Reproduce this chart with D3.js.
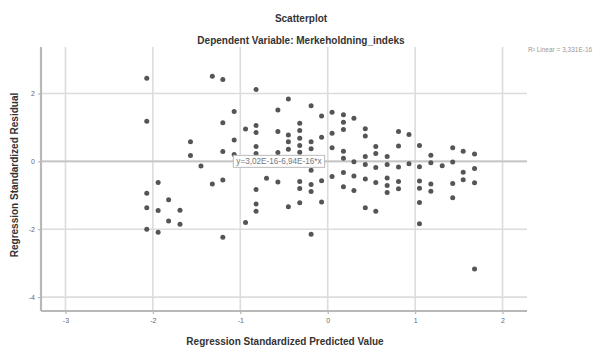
<!DOCTYPE html>
<html>
<head>
<meta charset="utf-8">
<script src="https://cdn.jsdelivr.net/npm/d3@7"></script>
<style>
    body { margin: 0; background: #fff; }
    svg { display: block; font-family: "Liberation Sans", Arial, sans-serif; }
</style>
</head>
<body>
<svg id="svg1" width="602" height="350"></svg>
<script>
// data: predicted values fall in columns
var predictedValues = [-2.07, -1.94, -1.82, -1.69, -1.57, -1.45, -1.32, -1.20, -1.07, -0.94,
    -0.82, -0.70, -0.57, -0.45, -0.32, -0.19, -0.07, 0.05, 0.18, 0.30,
    0.43, 0.55, 0.68, 0.81, 0.93, 1.05, 1.18, 1.31, 1.43, 1.55, 1.68];

// standardized residuals for each predicted value column above
var residualGroups = [
    [2.45, 1.18, -0.94, -1.37, -2.00],
    [-0.62, -1.45, -2.09],
    [-1.13, -1.76],
    [-1.44, -1.85],
    [0.58, 0.17],
    [-0.14],
    [2.51, -0.67],
    [2.41, 1.14, 0.29, -0.55, -2.24],
    [1.47, 0.63, 0.20],
    [0.95, -1.80],
    [2.12, 1.06, 0.85, 0.44, 0.23, -0.83, -1.26, -1.47],
    [-0.50],
    [1.51, 0.88, 0.26, -0.61],
    [1.84, 0.78, 0.58, 0.36, -1.34],
    [1.12, 0.91, 0.68, 0.47, 0.27, -0.59, -0.80, -1.22],
    [1.64, 0.58, 0.37, -0.26, -0.68, -0.89, -2.15],
    [1.34, 0.71, -0.57, -1.20],
    [1.45, 0.83, 0.40, -0.45],
    [1.37, 1.15, 0.94, 0.30, 0.09, -0.33, -0.75],
    [1.27, -0.01, -0.43, -0.86],
    [0.96, 0.75, 0.14, -0.09, -0.52, -1.37],
    [0.44, 0.23, -0.18, -0.62, -1.47],
    [0.14, -0.09, -0.49, -0.71, -0.92],
    [0.88, 0.45, -0.17, -0.59, -0.81],
    [0.79, -0.07],
    [0.47, -0.16, -0.58, -0.79, -1.21, -1.84],
    [0.18, -0.04, -0.67, -0.88],
    [-0.13],
    [0.40, -0.02, -0.65, -1.07],
    [0.30, -0.32, -0.54],
    [0.22, -0.21, -0.63, -3.17]
];

var xTicks = [-3, -2, -1, 0, 1, 2];
var yTicks = [2, 0, -2, -4];

// fit line coefficients (intercept, slope) and the labels SPSS prints
var fitIntercept = 3.02e-16;
var fitSlope = -6.94e-16;
var fitLabel = 'y=3,02E-16-6,94E-16*x';
var r2Label = 'R\u00B2 Linear = 3,331E-16';

var titleText = 'Scatterplot';
var subtitleText = 'Dependent Variable: Merkeholdning_indeks';
var xTitle = 'Regression Standardized Predicted Value';
var yTitle = 'Regression Standardized Residual';

var points = [];
predictedValues.forEach(function(x, i){
    residualGroups[i].forEach(function(y){
        points.push({x: x, y: y});
    });
});

var svg = d3.select('#svg1');

// plot frame (note: "top" is a reserved window property, so prefix these)
var plotLeft = 41, plotRight = 527, plotTop = 47, plotBottom = 311;

var scaleX = d3.scaleLinear().domain([-3.28, 2.28]).range([plotLeft, plotRight]);
var scaleY = d3.scaleLinear().domain([-4.41, 3.37]).range([plotBottom, plotTop]);

// grid lines
svg.selectAll('.vgrid')
    .data(xTicks)
    .enter()
    .append('line')
    .attr('class', 'vgrid')
    .attr('x1', function(d){ return scaleX(d); })
    .attr('x2', function(d){ return scaleX(d); })
    .attr('y1', plotTop)
    .attr('y2', plotBottom)
    .attr('stroke', '#dcdcdc')
    .attr('stroke-width', 1.6);

svg.selectAll('.hgrid')
    .data(yTicks)
    .enter()
    .append('line')
    .attr('class', 'hgrid')
    .attr('x1', plotLeft)
    .attr('x2', plotRight)
    .attr('y1', function(d){ return scaleY(d); })
    .attr('y2', function(d){ return scaleY(d); })
    .attr('stroke', '#dcdcdc')
    .attr('stroke-width', 1.6);

// axes
var axisX = svg.append('g')
    .attr('transform', 'translate(0,' + plotBottom + ')')
    .call(d3.axisBottom(scaleX).tickValues(xTicks).tickSize(3).tickPadding(4)
        .tickFormat(function(d){ return String(d); }));

var axisY = svg.append('g')
    .attr('transform', 'translate(' + plotLeft + ',0)')
    .call(d3.axisLeft(scaleY).tickValues(yTicks).tickSize(3).tickPadding(3)
        .tickFormat(function(d){ return String(d); }));

[axisX, axisY].forEach(function(a){
    a.select('.domain').attr('stroke', '#b8b8b8').attr('stroke-width', 2.2);
    a.selectAll('.tick line').attr('stroke', '#b8b8b8').attr('stroke-width', 1.2);
    a.selectAll('.tick text').attr('fill', '#666').style('font-size', '7px');
});
axisX.select('.domain').attr('d', 'M' + plotLeft + ',0H' + plotRight);
axisY.select('.domain').attr('d', 'M0,' + plotTop + 'V' + plotBottom);

// fit line across the plot
var xd = scaleX.domain();
svg.append('line')
    .attr('x1', scaleX(xd[0]))
    .attr('x2', scaleX(xd[1]))
    .attr('y1', scaleY(fitIntercept + fitSlope * xd[0]))
    .attr('y2', scaleY(fitIntercept + fitSlope * xd[1]))
    .attr('stroke', '#c4c4c4')
    .attr('stroke-width', 1.8);

// points
svg.selectAll('.dot')
    .data(points)
    .enter()
    .append('circle')
    .attr('class', 'dot')
    .attr('cx', function(d){ return scaleX(d.x); })
    .attr('cy', function(d){ return scaleY(d.y); })
    .attr('r', 2.5)
    .attr('fill', '#555');

// fit label box sitting on the line
var labelX = scaleX(-1.08);
var labelY = scaleY(fitIntercept + fitSlope * -1.08);
var lab = svg.append('g').attr('transform', 'translate(' + labelX + ',' + labelY + ')');
lab.append('rect')
    .attr('x', 0)
    .attr('y', -6)
    .attr('width', 95)
    .attr('height', 12)
    .attr('fill', '#fff')
    .attr('stroke', '#bbb')
    .attr('stroke-width', 1);
var labText = lab.append('text')
    .attr('x', 3)
    .attr('y', 3)
    .attr('fill', '#777')
    .style('font-size', '8.2px')
    .text(fitLabel);
var tw = labText.node().getComputedTextLength();
lab.select('rect').attr('width', tw + 6);

// R2 note outside the plot
svg.append('text')
    .attr('x', plotRight + 1)
    .attr('y', plotTop + 5)
    .attr('fill', '#999')
    .style('font-size', '6.5px')
    .text(r2Label);

// titles
svg.append('text')
    .attr('x', 301)
    .attr('y', 22)
    .attr('text-anchor', 'middle')
    .attr('font-weight', 'bold')
    .attr('fill', '#333')
    .style('font-size', '10px')
    .text(titleText);

svg.append('text')
    .attr('x', 301)
    .attr('y', 44)
    .attr('text-anchor', 'middle')
    .attr('font-weight', 'bold')
    .attr('fill', '#333')
    .style('font-size', '10px')
    .text(subtitleText);

svg.append('text')
    .attr('x', (plotLeft + plotRight) / 2 + 1)
    .attr('y', 345)
    .attr('text-anchor', 'middle')
    .attr('font-weight', 'bold')
    .attr('fill', '#333')
    .style('font-size', '10px')
    .text(xTitle);

svg.append('text')
    .attr('transform', 'translate(18,' + ((plotTop + plotBottom) / 2 - 4) + ') rotate(-90)')
    .attr('text-anchor', 'middle')
    .attr('font-weight', 'bold')
    .attr('fill', '#333')
    .style('font-size', '10px')
    .text(yTitle);
</script>
</body>
</html>
